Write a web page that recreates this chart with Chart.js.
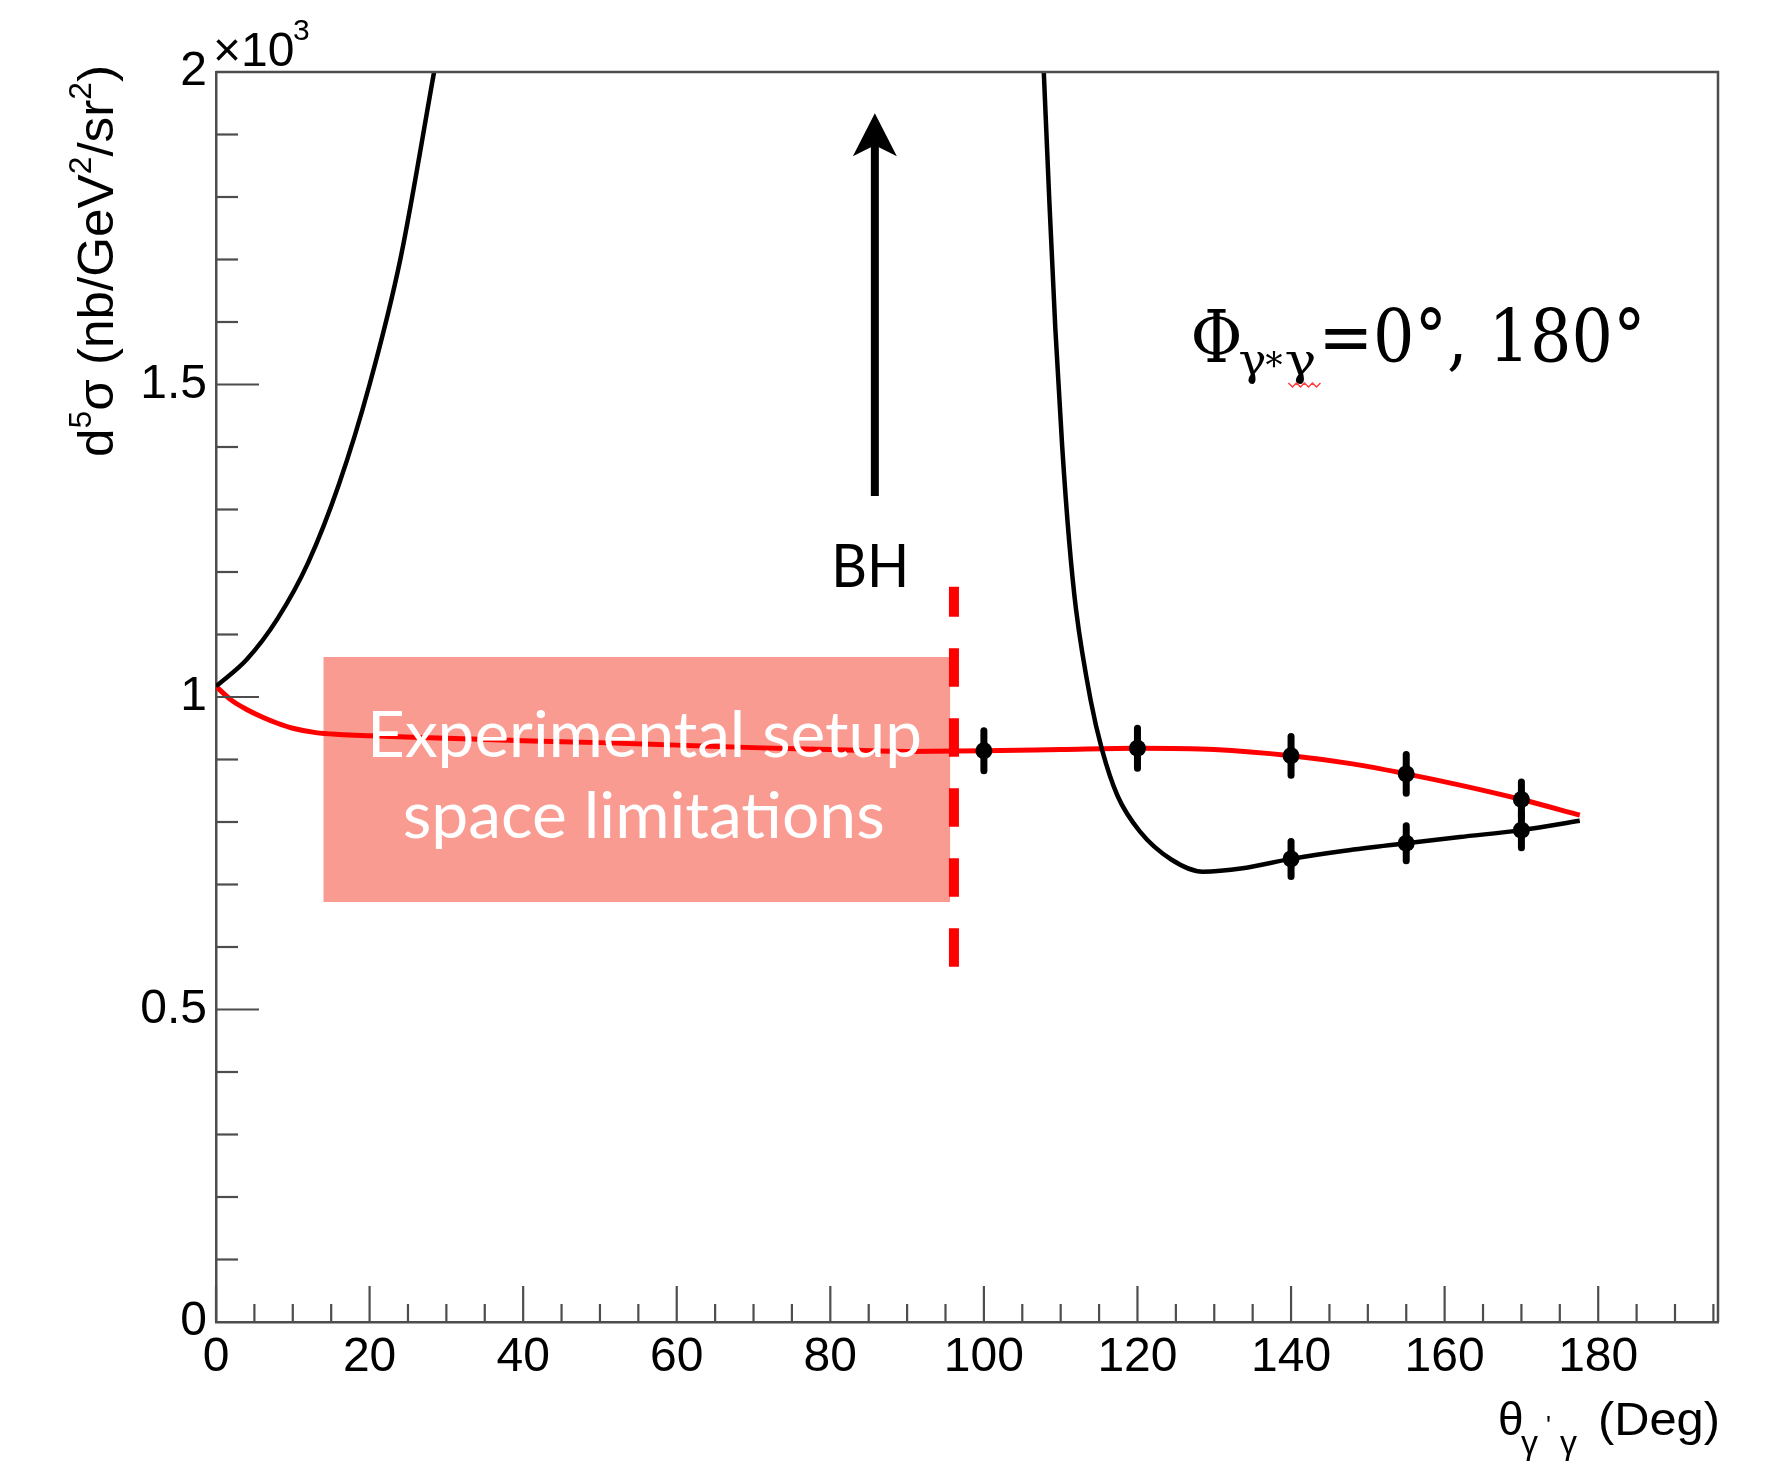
<!DOCTYPE html>
<html>
<head>
<meta charset="utf-8">
<script src="https://cdn.jsdelivr.net/npm/chart.js@4.4.1/dist/chart.umd.min.js"></script>
<style>
  html, body { margin: 0; padding: 0; background: #ffffff; }
  canvas { display: block; }
</style>
</head>
<body>
<canvas id="xsec" width="1767" height="1470"></canvas>
<script>
// θ (deg) against d5σ in units of 10^3 nb/GeV^2/sr^2

// red curve: BH + DVCS model
const redTheta = [0, 2, 4, 6, 8, 10, 13, 16, 20, 30, 40, 50, 60, 70, 80, 90, 100, 110, 120, 130, 140, 148, 155, 162, 170, 177.6];
const redXsec  = [1.017, 0.995, 0.980, 0.968, 0.958, 0.950, 0.943, 0.940, 0.938, 0.934, 0.930, 0.927, 0.923, 0.919, 0.916, 0.913, 0.914, 0.916, 0.918, 0.916, 0.906, 0.893, 0.877, 0.859, 0.836, 0.811];

// black curve: Bethe-Heitler, leaves the frame between the two branches
const bhLeftTheta  = [0, 4, 8, 12, 16, 20, 24, 28.4];
const bhLeftXsec   = [1.017, 1.060, 1.125, 1.215, 1.340, 1.500, 1.700, 2.000];
const bhRightTheta = [107.8, 108.5, 109.3, 110.2, 111.1, 112.0, 113.9, 115.4, 117.4, 120.3, 124.4, 128.5, 133.7, 140, 147, 155, 162, 170, 177.6];
const bhRightXsec  = [2.000, 1.800, 1.590, 1.400, 1.250, 1.140, 0.995, 0.915, 0.842, 0.785, 0.740, 0.7205, 0.726, 0.741, 0.754, 0.766, 0.776, 0.787, 0.802];

// projected measurements with uncertainties
const ptsATheta = [100, 120, 140, 155, 170];
const ptsAXsec  = [0.914, 0.918, 0.906, 0.877, 0.836];
const ptsAErr   = [0.032, 0.032, 0.031, 0.031, 0.028];
const ptsBTheta = [140, 155, 170];
const ptsBXsec  = [0.741, 0.766, 0.787];
const ptsBErr   = [0.028, 0.028, 0.028];

// axis ticks
const xTickValues = [0, 20, 40, 60, 80, 100, 120, 140, 160, 180];
const xTickLabels = ['0', '20', '40', '60', '80', '100', '120', '140', '160', '180'];
const yTickValues = [0, 0.5, 1, 1.5, 2];
const yTickLabels = ['0', '0.5', '1', '1.5', '2'];

// annotation anchors (data units)
const shadedBox  = { x0: 14.0, x1: 95.6, y0: 0.672, y1: 1.064 };
const cutLine    = { x: 96.1, y0: 0.5685, y1: 1.1765 };
const bhArrow    = { x: 85.8, y0: 1.3216, y1: 1.934 };
const bhLabel    = { x: 85.2, y: 1.176 };
const boxLines   = [ { x: 55.8, y: 0.904, text: 'Experimental setup', w: 555 },
                     { x: 55.7, y: 0.7744, text: 'space limitations', w: 482 } ];
const phiAnchor  = { x: 126.9, y: 1.536 };

const AXIS_FONT = "'Liberation Sans', Arial, Helvetica, sans-serif";
const AXIS_COLOR = '#4d4d4d';

const pts = (xs, ys) => xs.map((x, i) => ({ x: x, y: ys[i] }));
const blackCurve = pts(bhLeftTheta, bhLeftXsec)
  .concat([{ x: 68, y: null }])
  .concat(pts(bhRightTheta, bhRightXsec));

function fitText(ctx, text, x, y, width, font, align) {
  ctx.save();
  ctx.font = font;
  const w = ctx.measureText(text).width;
  ctx.translate(x, y);
  ctx.scale(width / w, 1);
  ctx.textAlign = align || 'center';
  ctx.textBaseline = 'alphabetic';
  ctx.fillText(text, 0, 0);
  ctx.restore();
}

// pieces: [{t, size, rise}] drawn along the baseline, stretched to `length`
function drawRun(ctx, pieces, family, length) {
  let total = 0;
  const widths = pieces.map(p => {
    ctx.font = p.size + 'px ' + family;
    const w = ctx.measureText(p.t).width;
    total += w;
    return w;
  });
  const s = length ? length / total : 1;
  ctx.save();
  ctx.scale(s, 1);
  let cx = 0;
  pieces.forEach((p, i) => {
    ctx.font = p.size + 'px ' + family;
    ctx.fillText(p.t, cx, -(p.rise || 0));
    cx += widths[i];
  });
  ctx.restore();
}

const decorations = {
  id: 'decorations',
  beforeDatasetsDraw(chart) {
    const { ctx, scales: { x, y } } = chart;
    // shaded acceptance region
    ctx.save();
    ctx.fillStyle = '#fa9b91';
    const bx0 = x.getPixelForValue(shadedBox.x0), bx1 = x.getPixelForValue(shadedBox.x1);
    const by0 = y.getPixelForValue(shadedBox.y1), by1 = y.getPixelForValue(shadedBox.y0);
    ctx.fillRect(bx0, by0, bx1 - bx0, by1 - by0);
    ctx.restore();
  },
  afterDatasetsDraw(chart) {
    const { ctx, scales: { x, y } } = chart;
    ctx.save();
    // error bars
    ctx.strokeStyle = '#000';
    ctx.lineWidth = 7;
    ctx.lineCap = 'round';
    const bars = (xs, ys, es) => xs.forEach((t, i) => {
      const px = x.getPixelForValue(t);
      ctx.beginPath();
      ctx.moveTo(px, y.getPixelForValue(ys[i] - es[i]));
      ctx.lineTo(px, y.getPixelForValue(ys[i] + es[i]));
      ctx.stroke();
    });
    bars(ptsATheta, ptsAXsec, ptsAErr);
    bars(ptsBTheta, ptsBXsec, ptsBErr);

    // dashed cut line
    ctx.lineCap = 'butt';
    ctx.strokeStyle = '#ff0000';
    ctx.lineWidth = 10;
    ctx.setLineDash([38.4, 31.6]);
    const lx = x.getPixelForValue(cutLine.x);
    ctx.beginPath();
    ctx.moveTo(lx, y.getPixelForValue(cutLine.y0));
    ctx.lineTo(lx, y.getPixelForValue(cutLine.y1));
    ctx.stroke();
    ctx.setLineDash([]);

    // text inside the shaded region
    ctx.fillStyle = '#ffffff';
    boxLines.forEach(l => {
      fitText(ctx, l.text, x.getPixelForValue(l.x), y.getPixelForValue(l.y), l.w, "63px Lato, 'Open Sans', sans-serif");
    });

    // BH arrow
    const ax = x.getPixelForValue(bhArrow.x);
    const aTop = y.getPixelForValue(bhArrow.y1);
    const aBot = y.getPixelForValue(bhArrow.y0);
    ctx.strokeStyle = '#000';
    ctx.fillStyle = '#000';
    ctx.lineWidth = 8;
    ctx.beginPath();
    ctx.moveTo(ax, aBot);
    ctx.lineTo(ax, aTop + 25);
    ctx.stroke();
    ctx.beginPath();
    ctx.moveTo(ax, aTop);
    ctx.lineTo(ax + 22, aTop + 43);
    ctx.lineTo(ax, aTop + 32);
    ctx.lineTo(ax - 22, aTop + 43);
    ctx.closePath();
    ctx.fill();
    fitText(ctx, 'BH', x.getPixelForValue(bhLabel.x), y.getPixelForValue(bhLabel.y), 78, "60px Lato, 'Open Sans', sans-serif");

    // Φ label
    const fx = x.getPixelForValue(phiAnchor.x);
    const fy = y.getPixelForValue(phiAnchor.y);
    const serif = "'DejaVu Serif', 'Liberation Serif', serif";
    fitText(ctx, 'Φ', fx, fy, 52, '72px ' + serif, 'left');
    fitText(ctx, 'γ', fx + 48, fy + 13, 28, '44px ' + serif, 'left');
    fitText(ctx, '*', fx + 75, fy + 16, 17, '36px ' + serif, 'left');
    fitText(ctx, 'γ', fx + 94, fy + 13, 32, '44px ' + serif, 'left');
    fitText(ctx, '=0°, 180°', fx + 128, fy, 327, '72px ' + serif, 'left');
    // wavy underline under the second subscript
    ctx.strokeStyle = '#ff3b3b';
    ctx.lineWidth = 1.5;
    ctx.beginPath();
    for (let k = 0; k <= 8; k++) {
      const qx = fx + 98 + k * 4;
      const qy = fy + 21 + (k % 2 ? 4 : 0);
      if (k === 0) ctx.moveTo(qx, qy); else ctx.lineTo(qx, qy);
    }
    ctx.stroke();
    ctx.restore();
  },
  afterDraw(chart) {
    const { ctx, chartArea: a, scales: { x, y } } = chart;
    ctx.save();
    ctx.strokeStyle = AXIS_COLOR;
    ctx.lineWidth = 2.5;
    // frame top and right
    ctx.beginPath();
    ctx.moveTo(a.left, a.top);
    ctx.lineTo(a.right, a.top);
    ctx.lineTo(a.right, a.bottom);
    ctx.stroke();
    // inward tick marks
    ctx.lineWidth = 2.2;
    for (let v = 0; v <= 195; v += 5) {
      const px = x.getPixelForValue(v);
      const len = v % 20 === 0 ? 36 : 18;
      ctx.beginPath();
      ctx.moveTo(px, a.bottom);
      ctx.lineTo(px, a.bottom - len);
      ctx.stroke();
    }
    for (let k = 0; k <= 20; k++) {
      const py = y.getPixelForValue(k / 10);
      const len = k % 5 === 0 ? 43 : 22;
      ctx.beginPath();
      ctx.moveTo(a.left, py);
      ctx.lineTo(a.left + len, py);
      ctx.stroke();
    }

    ctx.fillStyle = '#000';
    ctx.textAlign = 'left';
    ctx.textBaseline = 'alphabetic';
    // exponent of the y axis
    ctx.font = '48px ' + AXIS_FONT;
    ctx.fillText('×10', a.left - 3, a.top - 6);
    ctx.font = '30px ' + AXIS_FONT;
    ctx.fillText('3', a.left + 77, a.top - 32);

    // y title, rotated
    ctx.save();
    ctx.translate(a.left - 103, a.top + 385);
    ctx.rotate(-Math.PI / 2);
    drawRun(ctx, [
      { t: 'd', size: 50 }, { t: '5', size: 31, rise: 22 },
      { t: 'σ (nb/GeV', size: 50 }, { t: '2', size: 31, rise: 22 },
      { t: '/sr', size: 50 }, { t: '2', size: 31, rise: 22 },
      { t: ')', size: 50 }
    ], AXIS_FONT, 392);
    ctx.restore();

    // x title
    const r = a.right;
    const b = a.bottom;
    ctx.font = '46px ' + AXIS_FONT;
    ctx.fillText('θ', r - 220, b + 113);
    ctx.font = '34px ' + AXIS_FONT;
    ctx.fillText('γ', r - 197, b + 132);
    ctx.fillText('γ', r - 158, b + 132);
    ctx.font = '26px ' + AXIS_FONT;
    ctx.fillText("'", r - 172, b + 112);
    fitText(ctx, '(Deg)', r + 2, b + 113, 122, '46px ' + AXIS_FONT, 'right');
    ctx.restore();
  }
};

new Chart(document.getElementById('xsec').getContext('2d'), {
  type: 'scatter',
  data: {
    datasets: [
      { label: 'measurements A', data: pts(ptsATheta, ptsAXsec), pointRadius: 8.5, pointBackgroundColor: '#000', pointBorderWidth: 0, showLine: false, order: 0 },
      { label: 'measurements B', data: pts(ptsBTheta, ptsBXsec), pointRadius: 8.5, pointBackgroundColor: '#000', pointBorderWidth: 0, showLine: false, order: 0 },
      { label: 'BH', data: blackCurve, showLine: true, spanGaps: false, borderColor: '#000', borderWidth: 4.5, pointRadius: 0, cubicInterpolationMode: 'monotone', order: 1 },
      { label: 'BH+DVCS', data: pts(redTheta, redXsec), showLine: true, borderColor: '#ff0000', borderWidth: 5, pointRadius: 0, cubicInterpolationMode: 'monotone', order: 2 }
    ]
  },
  options: {
    responsive: false,
    animation: false,
    devicePixelRatio: 1,
    events: [],
    layout: { padding: { top: 72, right: 49, left: 0, bottom: 0 } },
    plugins: { legend: { display: false }, tooltip: { enabled: false } },
    scales: {
      x: {
        type: 'linear', min: 0, max: 195.6,
        afterBuildTicks: s => { s.ticks = xTickValues.map(v => ({ value: v })); },
        afterFit: s => { s.height = 148; },
        grid: { display: false, drawTicks: false, tickLength: 0 },
        border: { display: true, color: AXIS_COLOR, width: 2.5 },
        ticks: {
          font: { family: AXIS_FONT, size: 48 }, color: '#000', padding: 7,
          maxRotation: 0, autoSkip: false,
          callback: (v, i) => xTickLabels[i]
        }
      },
      y: {
        type: 'linear', min: 0, max: 2,
        afterBuildTicks: s => { s.ticks = yTickValues.map(v => ({ value: v })); },
        afterFit: s => { s.width = 216; },
        grid: { display: false, drawTicks: false, tickLength: 0 },
        border: { display: true, color: AXIS_COLOR, width: 2.5 },
        ticks: {
          font: { family: AXIS_FONT, size: 48 }, color: '#000', padding: 9,
          autoSkip: false,
          callback: (v, i) => yTickLabels[i]
        }
      }
    }
  },
  plugins: [decorations]
});
</script>
</body>
</html>
